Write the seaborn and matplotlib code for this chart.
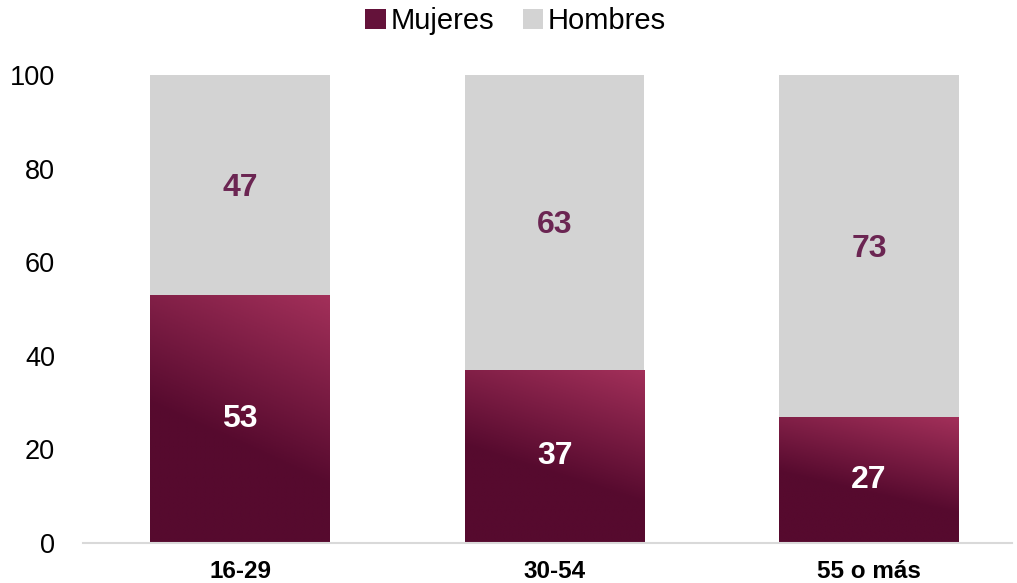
import numpy as np
import pandas as pd
import matplotlib
matplotlib.use('Agg')
import matplotlib.pyplot as plt
from matplotlib.colors import LinearSegmentedColormap
from matplotlib.patches import Patch
import seaborn as sns

# data
categories = ['16-29', '30-54', '55 o más']
mujeres = [53, 37, 27]
hombres = [47, 63, 73]
y_ticks = [0, 20, 40, 60, 80, 100]

DARK = '#560a2e'
LIGHT = '#a3305a'
GRAY = '#d3d3d3'
LABEL_H = '#6b2552'

sns.set_theme(style='white')
plt.rcParams['font.family'] = ['Liberation Sans', 'DejaVu Sans']
plt.rcParams['text.color'] = 'black'

df = pd.DataFrame({'grupo': categories, 'Mujeres': mujeres, 'Hombres': hombres})
df['total'] = df['Mujeres'] + df['Hombres']

fig = plt.figure(figsize=(10.17, 5.83), dpi=100)
ax = fig.add_axes([83 / 1017, 40 / 583, (1012 - 83) / 1017, (543 - 75) / 583])

# top segment first (full height), then the bottom segment over it
sns.barplot(data=df, x='grupo', y='total', color=GRAY, width=0.572,
            saturation=1, linewidth=0, ax=ax, zorder=2)
n_gray = len(ax.patches)
sns.barplot(data=df, x='grupo', y='Mujeres', color=DARK, width=0.572,
            saturation=1, linewidth=0, ax=ax, zorder=3)

# diagonal gradient inside each Mujeres bar
cmap = LinearSegmentedColormap.from_list('vino', [(0, DARK), (0.42, DARK), (1, LIGHT)])
uu, vv = np.meshgrid(np.linspace(0, 1, 200), np.linspace(0, 1, 200))
grad = (vv + 0.33 * uu) / 1.33
for p in ax.patches[n_gray:]:
    x0, y0 = p.get_x(), p.get_y()
    w, h = p.get_width(), p.get_height()
    im = ax.imshow(grad, cmap=cmap, origin='lower', aspect='auto',
                   extent=[x0, x0 + w, y0, y0 + h], zorder=4, vmin=0, vmax=1)
    im.set_clip_path(p)

ax.set_xlim(-0.5, 2.455)
ax.set_ylim(0, 100)
ax.set_yticks(y_ticks)

for i, (m, h) in enumerate(zip(mujeres, hombres)):
    ax.text(i, m / 2, str(m), ha='center', va='center', color='white',
            fontsize=23, fontweight='bold', zorder=5)
    ax.text(i, m + h / 2 - 0.6, str(h), ha='center', va='center', color=LABEL_H,
            fontsize=23, fontweight='bold', zorder=5)

ax.set_xlabel('')
ax.set_ylabel('')
ax.tick_params(axis='y', length=0, pad=20, labelsize=19.5, labelcolor='black')
ax.tick_params(axis='x', length=0, pad=12, labelsize=17.5, labelcolor='black')
for lab in ax.get_xticklabels():
    lab.set_fontweight('bold')

for s in ['top', 'right', 'left']:
    ax.spines[s].set_visible(False)
ax.spines['bottom'].set_color('#d9d9d9')
ax.spines['bottom'].set_linewidth(1.5)
ax.spines['bottom'].set_zorder(6)

handles = [Patch(facecolor='#64123a', edgecolor='none'),
           Patch(facecolor=GRAY, edgecolor='none')]
fig.legend(handles, ['Mujeres', 'Hombres'], loc='upper center',
           bbox_to_anchor=(0.507, 1.033), ncol=2, frameon=False, fontsize=21,
           handlelength=0.7, handleheight=0.7, handletextpad=0.15,
           columnspacing=1.0, labelcolor='black')

fig.savefig('out.png', dpi=100)
